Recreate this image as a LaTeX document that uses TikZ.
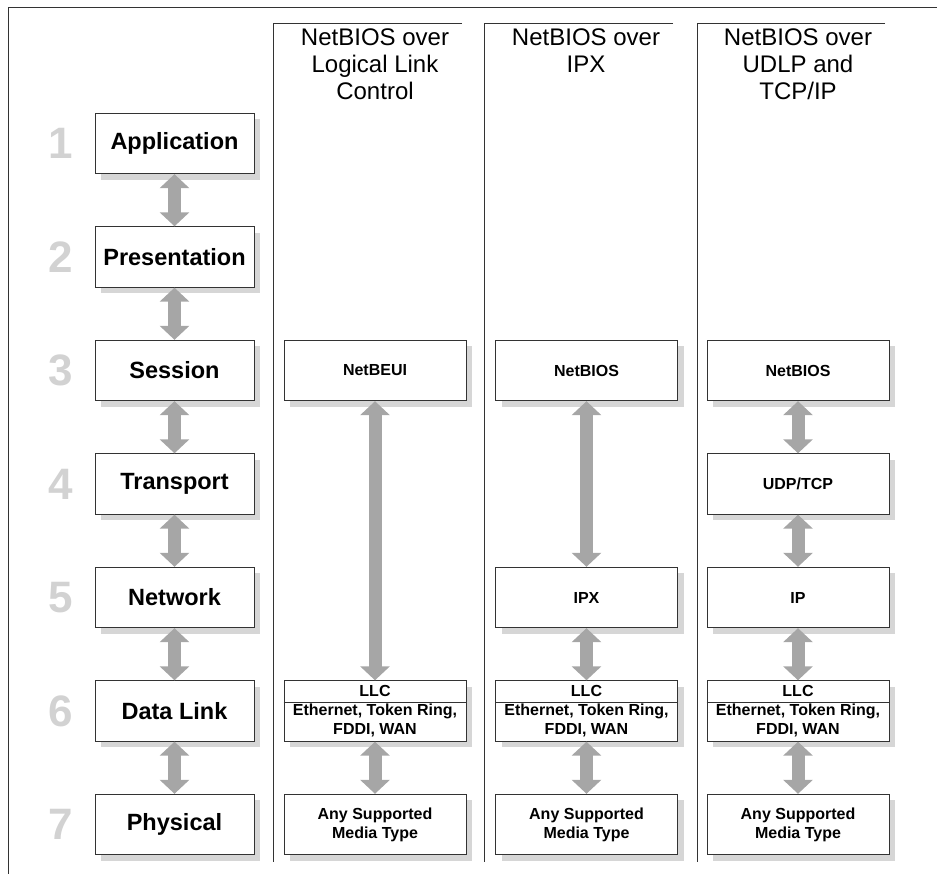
\documentclass[tikz,border=0pt]{standalone}
\usepackage{fontspec}
\setmainfont{Liberation Sans}
\usetikzlibrary{arrows.meta,shadows}
\definecolor{numgray}{HTML}{D2D2D2}
\definecolor{arrgray}{HTML}{A6A6A6}
\definecolor{shadegray}{HTML}{D6D6D6}
\definecolor{linegray}{HTML}{333333}

\tikzset{
  layer/.style={draw=linegray, fill=white, line width=0.9pt,
    minimum width=159pt, minimum height=60.5pt, inner sep=0pt,
    font=\fontsize{23.5}{28}\selectfont\bfseries,
    drop shadow={shadow xshift=6pt, shadow yshift=-6pt, fill=shadegray, opacity=1}},
  proto/.style={layer, minimum width=182pt, align=center,
    font=\fontsize{16}{19}\selectfont\bfseries},
  num/.style={text=numgray, font=\fontsize{44}{44}\selectfont\bfseries},
  title/.style={align=center, font=\fontsize{24}{27}\selectfont},
  dbl/.style={arrgray, line width=13pt,
    {Triangle[width=29pt,length=14pt]}-{Triangle[width=29pt,length=14pt]}}
}

\begin{document}
\begin{tikzpicture}[x=1pt,y=-1pt]
\useasboundingbox (0,0) rectangle (937,874);
% frame and columns
\draw[linegray, line width=0.9pt] (937,7) -- (8,7) -- (8,874);
\draw[linegray, line width=0.9pt] (462,23) -- (273,23) -- (273,862);
\draw[linegray, line width=0.9pt] (673,23) -- (484,23) -- (484,862);
\draw[linegray, line width=0.9pt] (885,23) -- (697,23) -- (697,862);

\node[title] (ta) at (375,64) {NetBIOS over\\Logical Link\\Control};
\node[title] (tb) at (586,51) {NetBIOS over\\IPX};
\node[title] (tc) at (798,64) {NetBIOS over\\UDLP and\\TCP/IP};

% OSI stack
  \begin{scope}[every node/.style={num}]
  \node (n1) at (61,143.5) {1};
  \node (n2) at (61,257) {2};
  \node (n3) at (61,370.5) {3};
  \node (n4) at (61,484) {4};
  \node (n5) at (61,597.5) {5};
  \node (n6) at (61,711) {6};
  \node (n7) at (61,824.5) {7};
 \end{scope}
 \begin{scope}[every node/.style={layer}]
  \node (l1) at (174.5,143.5) {Application};
  \node (l2) at (174.5,257) {Presentation};
  \node (l3) at (174.5,370.5) {Session};
  \node (l4) at (174.5,484) {Transport};
  \node (l5) at (174.5,597.5) {Network};
  \node (l6) at (174.5,711) {Data Link};
  \node (l7) at (174.5,824.5) {Physical};
 \end{scope}

% protocol columns
 \begin{scope}[every node/.style={proto}]
  \node (a3) at (375,370.5) {NetBEUI};
  \node (a6) at (375,711) {LLC\\Ethernet, Token Ring,\\FDDI, WAN};
  \node (a7) at (375,824.5) {Any Supported\\Media Type};
  \node (b3) at (586.5,370.5) {NetBIOS};
  \node (b5) at (586.5,597.5) {IPX};
  \node (b6) at (586.5,711) {LLC\\Ethernet, Token Ring,\\FDDI, WAN};
  \node (b7) at (586.5,824.5) {Any Supported\\Media Type};
  \node (c3) at (798,370.5) {NetBIOS};
  \node (c4) at (798,484) {UDP/TCP};
  \node (c5) at (798,597.5) {IP};
  \node (c6) at (798,711) {LLC\\Ethernet, Token Ring,\\FDDI, WAN};
  \node (c7) at (798,824.5) {Any Supported\\Media Type};
 \end{scope}
\draw[linegray, line width=0.9pt] ([yshift=-22pt]a6.north west) -- ([yshift=-22pt]a6.north east);
\draw[linegray, line width=0.9pt] ([yshift=-22pt]b6.north west) -- ([yshift=-22pt]b6.north east);
\draw[linegray, line width=0.9pt] ([yshift=-22pt]c6.north west) -- ([yshift=-22pt]c6.north east);

  \path [dbl] (l1) edge (l2);
  \path [dbl] (l2) edge (l3);
  \path [dbl] (l3) edge (l4);
  \path [dbl] (l4) edge (l5);
  \path [dbl] (l5) edge (l6);
  \path [dbl] (l6) edge (l7);
  \path [dbl] (a3) edge (a6);
  \path [dbl] (a6) edge (a7);
  \path [dbl] (b3) edge (b5);
  \path [dbl] (b5) edge (b6);
  \path [dbl] (b6) edge (b7);
  \path [dbl] (c3) edge (c4);
  \path [dbl] (c4) edge (c5);
  \path [dbl] (c5) edge (c6);
  \path [dbl] (c6) edge (c7);
\end{tikzpicture}
\end{document}
